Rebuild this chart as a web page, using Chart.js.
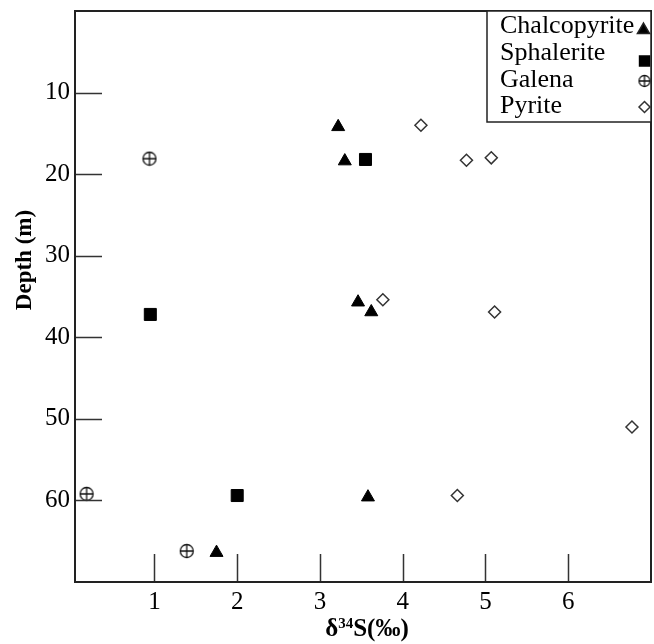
<!DOCTYPE html>
<html>
<head>
<meta charset="utf-8">
<script src="https://cdn.jsdelivr.net/npm/chart.js@4.4.1/dist/chart.umd.min.js"></script>
<style>
  html, body { margin: 0; padding: 0; background: #fff; }
  #wrap { width: 654px; height: 644px; }
</style>
</head>
<body>
<div id="wrap"><canvas id="c" width="654" height="644"></canvas></div>
<script>
// tick values
const xTicks = [1, 2, 3, 4, 5, 6];
const yTicks = [10, 20, 30, 40, 50, 60];

// d34S (permil) vs depth (m)
const chalcopyriteX = [3.22, 3.30, 3.46, 3.62, 3.58, 1.75];
const chalcopyriteY = [14.2, 18.4, 35.7, 36.9, 59.6, 66.4];
const sphaleriteX = [3.55, 0.95, 2.00];
const sphaleriteY = [18.2, 37.2, 59.4];
const galenaX = [0.94, 0.18, 1.39];
const galenaY = [18.1, 59.2, 66.2];
const pyriteX = [4.22, 4.77, 5.07, 3.76, 5.11, 6.77, 4.66];
const pyriteY = [14.0, 18.3, 18.0, 35.4, 36.9, 51.0, 59.4];

const legendNames = ['Chalcopyrite', 'Sphalerite', 'Galena', 'Pyrite'];

const SERIF = '"Liberation Serif", "Times New Roman", serif';

function pts(xs, ys) { return xs.map((x, i) => ({ x, y: ys[i] })); }

// circle with a plus inside, for galena
function galenaIcon(r) {
  const s = Math.ceil(r * 2 + 3);
  const cv = document.createElement('canvas');
  cv.width = s; cv.height = s;
  const g = cv.getContext('2d');
  const c = s / 2;
  g.strokeStyle = '#111';
  g.lineWidth = 1.3;
  g.beginPath(); g.arc(c, c, r, 0, Math.PI * 2); g.stroke();
  g.beginPath();
  g.moveTo(c - r, c); g.lineTo(c + r, c);
  g.moveTo(c, c - r); g.lineTo(c, c + r);
  g.stroke();
  return cv;
}

const galenaPoint = galenaIcon(6.5);
const galenaLegend = galenaIcon(5.5);

const noPad = () => ({ left: 0, right: 0, top: 0, bottom: 0 });

const framePlugin = {
  id: 'frame',
  afterDraw(chart) {
    const { ctx, chartArea: a, scales } = chart;
    ctx.save();
    // inward tick marks
    ctx.strokeStyle = '#333';
    ctx.lineWidth = 1.5;
    ctx.beginPath();
    xTicks.forEach(v => {
      const px = Math.round(scales.x.getPixelForValue(v)) + 0.5;
      ctx.moveTo(px, a.bottom); ctx.lineTo(px, a.bottom - 28);
    });
    yTicks.forEach(v => {
      const py = Math.round(scales.y.getPixelForValue(v)) + 0.5;
      ctx.moveTo(a.left, py); ctx.lineTo(a.left + 27, py);
    });
    ctx.stroke();

    // frame
    ctx.strokeStyle = '#222';
    ctx.lineWidth = 2;
    ctx.strokeRect(a.left, a.top, a.right - a.left, a.bottom - a.top);

    // legend box
    const lx = 487, ly = a.top, lw = a.right - lx, lh = 111;
    ctx.fillStyle = '#fff';
    ctx.fillRect(lx, ly, lw, lh);
    ctx.lineWidth = 1.5;
    ctx.strokeRect(lx, ly, lw, lh);
    ctx.fillStyle = '#000';
    ctx.font = '26px ' + SERIF;
    ctx.textAlign = 'left';
    ctx.textBaseline = 'alphabetic';
    const base = [33, 60, 87, 113];
    legendNames.forEach((n, i) => ctx.fillText(n, 500, base[i]));
    const H = Chart.helpers;
    H.drawPoint(ctx, { pointStyle: 'triangle', radius: 7, borderWidth: 1, rotation: 0 }, 643.5, 30);
    ctx.fillStyle = '#000'; ctx.strokeStyle = '#000';
    H.drawPoint(ctx, { pointStyle: 'rect', radius: 7, borderWidth: 1, rotation: 0 }, 644.5, 61);
    ctx.drawImage(galenaLegend, 644.5 - galenaLegend.width / 2, 81 - galenaLegend.height / 2);
    ctx.fillStyle = '#fff'; ctx.strokeStyle = '#333'; ctx.lineWidth = 1.5;
    H.drawPoint(ctx, { pointStyle: 'rectRot', radius: 5.5, borderWidth: 1.5, rotation: 0 }, 644.5, 107);

    // axis titles
    ctx.fillStyle = '#000';
    ctx.font = 'bold 25px ' + SERIF;
    const p1 = '\u03b4', p2 = '34', p3 = 'S(\u2030)';
    const w1 = ctx.measureText(p1).width, w3 = ctx.measureText(p3).width;
    ctx.font = 'bold 15px ' + SERIF;
    const w2 = ctx.measureText(p2).width;
    let tx = 367 - (w1 + w2 + w3) / 2;
    const ty = 636;
    ctx.font = 'bold 25px ' + SERIF;
    ctx.fillText(p1, tx, ty); tx += w1;
    ctx.font = 'bold 15px ' + SERIF;
    ctx.fillText(p2, tx, ty - 8); tx += w2;
    ctx.font = 'bold 25px ' + SERIF;
    ctx.fillText(p3, tx, ty);

    ctx.translate(25, 260);
    ctx.rotate(-Math.PI / 2);
    ctx.textAlign = 'center';
    ctx.textBaseline = 'middle';
    ctx.font = 'bold 23px ' + SERIF;
    ctx.fillText('Depth (m)', 0, 0);
    ctx.restore();
  }
};

new Chart(document.getElementById('c'), {
  type: 'scatter',
  data: {
    datasets: [
      { label: legendNames[0], data: pts(chalcopyriteX, chalcopyriteY), pointStyle: 'triangle', pointRadius: 7.5, backgroundColor: '#000', borderColor: '#000', borderWidth: 1 },
      { label: legendNames[1], data: pts(sphaleriteX, sphaleriteY), pointStyle: 'rect', pointRadius: 8.5, backgroundColor: '#000', borderColor: '#000', borderWidth: 1 },
      { label: legendNames[2], data: pts(galenaX, galenaY), pointStyle: galenaPoint },
      { label: legendNames[3], data: pts(pyriteX, pyriteY), pointStyle: 'rectRot', pointRadius: 6, backgroundColor: '#fff', borderColor: '#333', borderWidth: 1.5 }
    ]
  },
  options: {
    responsive: false,
    animation: false,
    events: [],
    layout: { autoPadding: false, padding: { top: 11, right: 3, left: 0, bottom: 0 } },
    plugins: { legend: { display: false }, tooltip: { enabled: false } },
    scales: {
      x: {
        type: 'linear', min: 0.04, max: 7.0,
        grid: { display: false, drawTicks: false },
        border: { display: false },
        afterBuildTicks: s => { s.ticks = xTicks.map(v => ({ value: v })); },
        afterFit: s => { s.height = 62; s.paddingLeft = 0; s.paddingRight = 0; s.getPadding = noPad; },
        ticks: { color: '#000', padding: 5, font: { family: SERIF, size: 25 } }
      },
      y: {
        type: 'linear', min: 0, max: 70, reverse: true,
        grid: { display: false, drawTicks: false },
        border: { display: false },
        afterBuildTicks: s => { s.ticks = yTicks.map(v => ({ value: v })); },
        afterFit: s => { s.width = 75; s.paddingTop = 0; s.paddingBottom = 0; s.getPadding = noPad; },
        ticks: { color: '#000', padding: 5, font: { family: SERIF, size: 25 } }
      }
    }
  },
  plugins: [framePlugin]
});
</script>
</body>
</html>
